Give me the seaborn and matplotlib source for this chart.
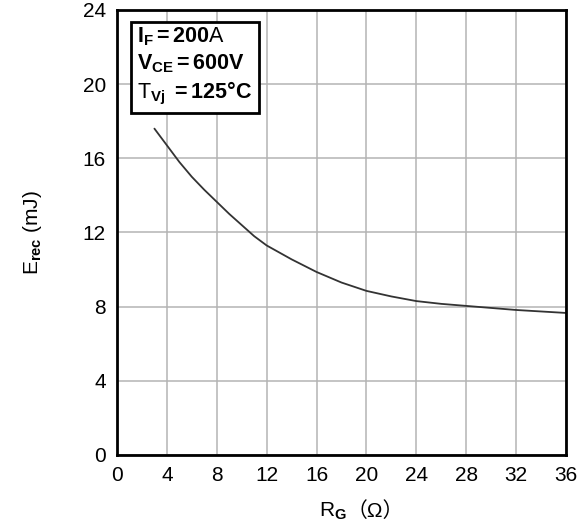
import matplotlib
matplotlib.use("Agg")
import matplotlib.pyplot as plt
import seaborn as sns

# Eğri verisi (referanstan okunmuş)
rg_ohm = [3, 4, 5, 6, 7, 8, 9, 10, 11, 12, 14, 16, 18, 20, 22, 24, 26, 28, 30, 32, 34, 36]
erec_mj = [17.6, 16.7, 15.8, 15.0, 14.3, 13.65, 13.0, 12.4, 11.8, 11.3, 10.55, 9.87, 9.3, 8.85,
           8.55, 8.3, 8.15, 8.04, 7.93, 7.82, 7.74, 7.66]
x_ticks = [0, 4, 8, 12, 16, 20, 24, 28, 32, 36]
y_ticks = [0, 4, 8, 12, 16, 20, 24]

sns.set_style("white")
plt.rcParams['font.family'] = ['Liberation Sans', 'Noto Sans CJK SC', 'DejaVu Sans']
plt.rcParams['mathtext.fontset'] = 'custom'
plt.rcParams['mathtext.rm'] = 'Liberation Sans'
plt.rcParams['mathtext.it'] = 'Liberation Sans'
plt.rcParams['mathtext.bf'] = 'Liberation Sans:bold'
plt.rcParams['text.color'] = 'black'
plt.rcParams['axes.labelcolor'] = 'black'
plt.rcParams['xtick.color'] = 'black'
plt.rcParams['ytick.color'] = 'black'

fig = plt.figure(figsize=(5.85, 5.24), dpi=100)
ax = fig.add_axes([0.2, 0.1317, 0.7675, 0.8493])

sns.lineplot(x=rg_ohm, y=erec_mj, ax=ax, color='#333333', linewidth=1.3)

ax.set_xlim(0, 36)
ax.set_ylim(0, 24)
ax.set_xticks(x_ticks)
ax.set_yticks(y_ticks)
ax.grid(True, color='#b4b4b4', linewidth=1.1)
ax.set_axisbelow(True)
ax.tick_params(length=0, labelsize=15, pad=8)
for sp in ax.spines.values():
    sp.set_visible(True)
    sp.set_color('black')
    sp.set_linewidth(2)

ax.set_ylabel(r'E$_{\mathbf{rec}}$ (mJ)', fontsize=15, labelpad=28)

# x ekseni etiketi: R_G ve tam genişlikte parantez
fig.text(0.592, 1 - 511 / 524, r'R$_{\mathbf{G}}$', ha='right', va='center', fontsize=15)
fig.text(0.592, 1 - 511 / 524, '（Ω）', ha='left', va='center', fontsize=15,
         family=['Liberation Sans', 'Noto Sans CJK SC'])

info = (r'$\mathbf{I_F{=}200}\mathrm{A}$' + '\n' +
        r'$\mathbf{V_{CE}{=}600V}$' + '\n' +
        r'$\mathrm{T}_{\mathbf{Vj}}\mathbf{\ {=}125°C}$')
ax.text(0.045, 0.965, info, transform=ax.transAxes, ha='left', va='top', fontsize=15.5,
        linespacing=1.25,
        bbox=dict(boxstyle='square,pad=0.3', facecolor='white', edgecolor='black', linewidth=2))

fig.savefig('out.png', dpi=100)
